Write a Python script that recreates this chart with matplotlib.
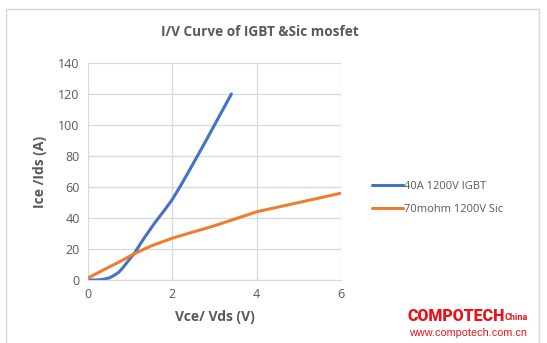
import matplotlib.pyplot as plt
from matplotlib.patches import Rectangle

####################################
# Data
####################################

# IGBT 40A 1200V
vce = [0.05, 0.2, 0.35, 0.5, 0.62, 0.73, 0.83, 0.93, 1.1, 1.33, 1.6, 1.8, 2.0, 2.2, 2.4, 2.8, 3.1, 3.4]
ice = [0, 0, 0.4, 1.3, 3, 5, 8, 11.5, 17.3, 27, 37.5, 44.5, 52, 61, 70.5, 90, 105, 120]

# SiC mosfet 70mohm 1200V
vds = [0, 0.33, 0.73, 1.1, 1.5, 2.0, 2.5, 3.0, 3.5, 4.0, 4.5, 5.0, 5.5, 6.0]
ids = [1.3, 6, 11.5, 17, 22, 27, 31, 35, 39.5, 44, 47, 50, 53, 56]

labels = ['40A 1200V IGBT', '70mohm 1200V Sic']
colours = ['#4472C4', '#ED7D31']
xticks = [0, 2, 4, 6]
yticks = [0, 20, 40, 60, 80, 100, 120, 140]

GREY = '#595959'
RED = '#E8141B'
plt.rcParams['font.family'] = ['Open Sans', 'DejaVu Sans']

####################################
# Figure
####################################

W, H = 547, 343
fig = plt.figure(figsize=(W / 100, H / 100), dpi=100)

# chart frame
fig.patches.append(Rectangle((6 / W, -0.05), 533 / W, 1.05 - 9 / H,
                             transform=fig.transFigure, fill=False,
                             edgecolor='#D9D9D9', lw=1))

ax = fig.add_axes([88 / W, 1 - 280 / H, 253 / W, 217 / H])
ax.plot(vce, ice, color=colours[0], lw=2.2, label=labels[0], solid_capstyle='round', solid_joinstyle='round')
ax.plot(vds, ids, color=colours[1], lw=2.2, label=labels[1], solid_capstyle='round', solid_joinstyle='round')

ax.set_xlim(0, 6)
ax.set_ylim(0, 140)
ax.set_xticks(xticks)
ax.set_yticks(yticks)
ax.grid(True, color='#D9D9D9', lw=0.9)
ax.set_axisbelow(True)
for s in ['top', 'right', 'left']:
    ax.spines[s].set_visible(False)
ax.spines['bottom'].set_color('#D9D9D9')
ax.tick_params(length=0, labelsize=9, labelcolor=GREY, pad=6)

ax.set_xlabel('Vce/ Vds (V)', fontsize=10, fontweight='bold', color=GREY, labelpad=6)
ax.set_ylabel('Ice /Ids (A)', fontsize=10, fontweight='bold', color=GREY, labelpad=8)

fig.text(260 / W, 1 - 32 / H, 'I/V Curve of IGBT &Sic mosfet', ha='center', va='center',
         fontsize=9.8, fontweight='bold', color=GREY)

leg = ax.legend(loc='center left', bbox_to_anchor=(362 / W, 1 - 198 / H),
                bbox_transform=fig.transFigure, frameon=False, fontsize=8,
                handlelength=2.8, handletextpad=0.1, labelspacing=1.1)
for t in leg.get_texts():
    t.set_color(GREY)

# watermark
fig.text(407 / W, 1 - 316 / H, 'COMPOTECH', ha='left', va='center', color=RED,
         fontsize=11.5, fontweight='black', family=['Roboto', 'DejaVu Sans'])
fig.text(505 / W, 1 - 318 / H, 'China', ha='left', va='center', color=RED,
         fontsize=6.5, fontweight='bold', family=['Roboto', 'DejaVu Sans'])
fig.text(409 / W, 1 - 333 / H, 'www.compotech.com.cn', ha='left', va='center',
         color=RED, fontsize=7.8, family=['Liberation Sans', 'DejaVu Sans'])

fig.savefig('out.png', dpi=100)
